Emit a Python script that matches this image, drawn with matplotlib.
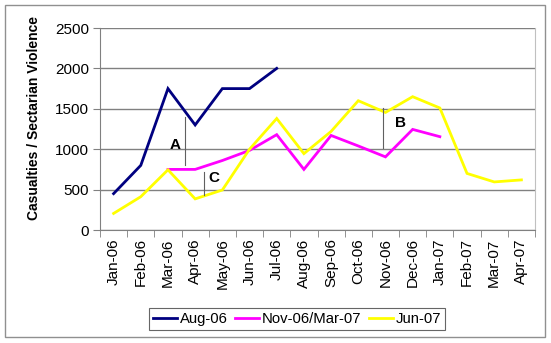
import matplotlib
matplotlib.use("Agg")
import matplotlib.pyplot as plt
from matplotlib.patches import Rectangle
import numpy as np

plt.rcParams['font.family'] = ['Liberation Sans', 'DejaVu Sans']

months = ["Jan-06", "Feb-06", "Mar-06", "Apr-06", "May-06", "Jun-06", "Jul-06",
          "Aug-06", "Sep-06", "Oct-06", "Nov-06", "Dec-06", "Jan-07", "Feb-07",
          "Mar-07", "Apr-07"]

aug06 = [450, 800, 1750, 1300, 1750, 1750, 2000]
nov06_mar07 = [None, None, 750, 750, 860, 985, 1180, 750, 1170, 1040, 905, 1245, 1155]
jun07 = [205, 412, 745, 385, 495, 1000, 1380, 945, 1220, 1600, 1455, 1650, 1510, 700, 595, 620]

series_names = ["Aug-06", "Nov-06/Mar-07", "Jun-07"]
series_colors = ["#000080", "#FF00FF", "#FFFF00"]
y_ticks = [0, 500, 1000, 1500, 2000, 2500]


def to_array(vals):
    return np.array([np.nan if v is None else v for v in vals], dtype=float)


fig = plt.figure(figsize=(5.51, 3.43), dpi=100)
fig.patch.set_facecolor("white")
ax = fig.add_axes([100 / 551, 1 - 230 / 343, 435 / 551, 202 / 343])

for vals, name, color in zip([aug06, nov06_mar07, jun07], series_names, series_colors):
    y = to_array(vals)
    ax.plot(np.arange(len(y)), y, color=color, lw=2.0, label=name,
            solid_joinstyle="miter")

ax.set_xlim(-0.5, len(months) - 0.5)
ax.set_ylim(0, 2500)
ax.set_yticks(y_ticks)
ax.set_yticklabels([str(t) for t in y_ticks], fontsize=11)
ax.set_xticks(np.arange(len(months)))
ax.set_xticklabels(months, rotation=90, fontsize=11)
ax.set_xticks(np.arange(len(months) + 1) - 0.5, minor=True)
ax.tick_params(axis="x", which="major", length=0, pad=6)
ax.tick_params(axis="x", which="minor", length=5, color="#808080", direction="out")
ax.tick_params(axis="y", length=5, color="#808080", direction="out", pad=3)

ax.grid(axis="y", color="#808080", lw=1.0)
ax.set_axisbelow(True)
for side in ["top", "right"]:
    ax.spines[side].set_color("#C0C0C0")
for side in ["left", "bottom"]:
    ax.spines[side].set_color("#808080")
ax.spines["top"].set_visible(False)

ax.set_ylabel("Casualties / Sectarian Violence", fontsize=10, fontweight="bold")
ax.yaxis.set_label_coords(-0.135, 0.555)

# Gap markers and their letters
ax.plot([2.63, 2.63], [800, 1400], color="#606060", lw=0.8)
ax.text(2.25, 1050, "A", fontsize=11, fontweight="bold", ha="center", va="center")
ax.plot([3.32, 3.32], [435, 720], color="#606060", lw=0.8)
ax.text(3.68, 645, "C", fontsize=11, fontweight="bold", ha="center", va="center")
ax.plot([9.9, 9.9], [1015, 1510], color="#606060", lw=0.8)
ax.text(10.55, 1320, "B", fontsize=11, fontweight="bold", ha="center", va="center")

leg = fig.legend(loc="center", bbox_to_anchor=(297 / 551, 1 - 319 / 343), ncol=3,
                 fontsize=10.7, frameon=True, fancybox=False, handlelength=1.6,
                 handletextpad=0.2, columnspacing=0.5, borderpad=0.3,
                 borderaxespad=0)
leg.get_frame().set_edgecolor("#404040")
leg.get_frame().set_linewidth(0.8)

fig.patches.append(Rectangle((5 / 551, 1 - 337 / 343), 540 / 551, 332 / 343,
                             transform=fig.transFigure, fill=False,
                             edgecolor="#909090", lw=1.0))

fig.savefig("out.png", dpi=100)
